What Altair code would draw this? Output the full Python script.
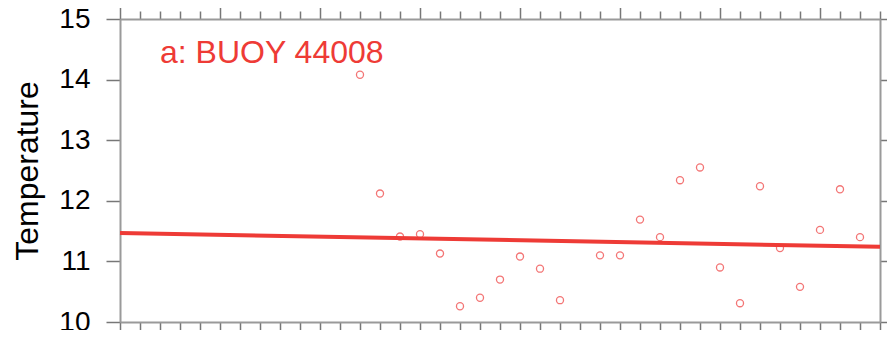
import altair as alt
import pandas as pd

# --- data ---
years = [1982, 1983, 1984, 1985, 1986, 1987, 1988, 1989, 1990, 1991, 1992,
         1994, 1995, 1996, 1997, 1998, 1999, 2000, 2001, 2002, 2003, 2004,
         2005, 2006, 2007]
temps = [14.08, 12.12, 11.41, 11.45, 11.13, 10.26, 10.40, 10.70, 11.08, 10.88,
         10.36, 11.10, 11.10, 11.69, 11.40, 12.34, 12.55, 10.90, 10.31, 12.24,
         11.22, 10.58, 11.52, 12.19, 11.40]
trend_years = [1970, 2008]
trend_values = [11.47, 11.24]
station_label = ["a: BUOY 44008"]
x_domain = [1970, 2008]
y_domain = [10, 15]
y_ticks = [10, 11, 12, 13, 14, 15]
x_ticks = list(range(1970, 2009))

pts = pd.DataFrame({"Year": years, "Temperature": temps})
trend = pd.DataFrame({"Year": trend_years, "Temperature": trend_values})
lab = pd.DataFrame({"label": station_label})

FONT = "Liberation Sans"
RED = "#ee3b36"
AXIS_GRAY = "#9a9a9a"
TICK_GRAY = "#777777"

xscale = alt.Scale(domain=x_domain, nice=False, zero=False)
yscale = alt.Scale(domain=y_domain, nice=False, zero=False)

tick_size_cond = {"condition": {"test": "datum.value % 5 === 0", "value": 16}, "value": 8}

common_axis = dict(domainColor=AXIS_GRAY, domainWidth=2, tickColor=TICK_GRAY,
                   tickWidth=1.5, grid=False)

points = alt.Chart(pts).mark_point(
    shape="circle", size=50, filled=False, color="#f04848", strokeWidth=1.3, opacity=0.75
).encode(
    x=alt.X("Year:Q", scale=xscale,
            axis=alt.Axis(orient="bottom", values=x_ticks, labels=False, title=None,
                          tickSize=tick_size_cond, **common_axis)),
    y=alt.Y("Temperature:Q", scale=yscale,
            axis=alt.Axis(orient="left", values=y_ticks, format="d", tickSize=14,
                          labelPadding=16, labelFont=FONT, labelFontSize=28,
                          labelColor="black", title="Temperature", titleFont=FONT,
                          titleFontSize=32, titleFontWeight="normal",
                          titleColor="black", titlePadding=14, **common_axis)),
)

line = alt.Chart(trend).mark_line(color=RED, strokeWidth=4).encode(
    x=alt.X("Year:Q", scale=xscale,
            axis=alt.Axis(orient="top", values=x_ticks, labels=False, title=None,
                          tickSize=tick_size_cond, **common_axis)),
    y=alt.Y("Temperature:Q", scale=yscale,
            axis=alt.Axis(orient="right", values=y_ticks, labels=False, title=None,
                          tickSize=10, **common_axis)),
)

text = alt.Chart(lab).mark_text(
    align="left", baseline="alphabetic", font=FONT, fontSize=32, color=RED
).encode(
    x=alt.value(40), y=alt.value(44), text="label:N"
)

chart = alt.layer(points, line, text).resolve_axis(
    x="independent", y="independent"
).properties(
    width=760, height=303,
    autosize=alt.AutoSizeParams(type="none"),
    padding={"left": 112, "top": 11, "right": 7, "bottom": 8},
).configure_view(stroke=None)

chart.save("out.html", embed_options={"renderer": "svg", "actions": False})
